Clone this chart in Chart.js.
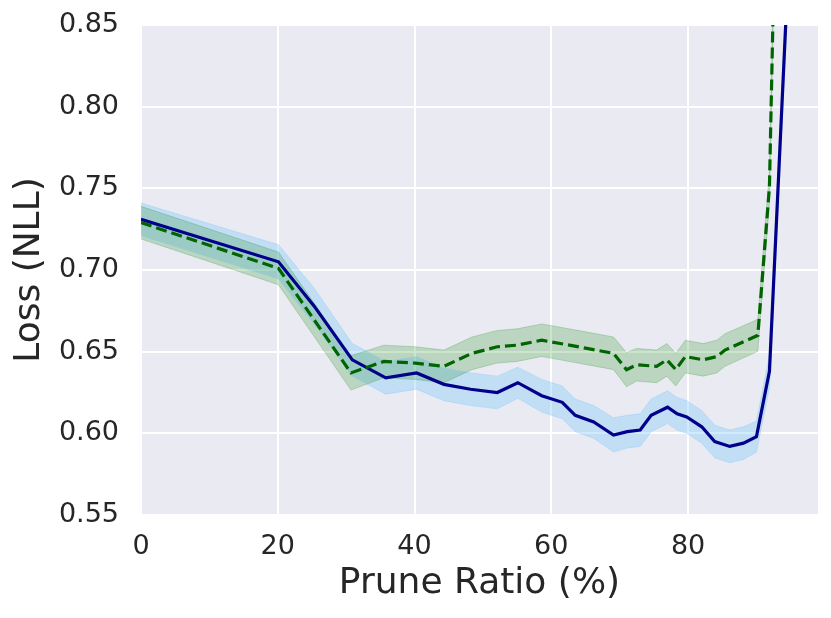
<!DOCTYPE html>
<html lang="en">

<head>
  <meta charset="UTF-8">
  <title>prune loss</title>
  <script src="https://cdn.jsdelivr.net/npm/chart.js"></script>
  <style>
    body {
      margin: 0;
      background: #fff;
    }
  </style>
</head>

<body>
  <canvas id="myChart" width="831" height="618"></canvas>

  <script>
    // solid navy curve
    const blueX = [0, 20.1, 25.3, 30.9, 35.8, 40.3, 44.3, 48.2, 52.1, 55.1, 58.6, 61.6, 63.5, 66.2, 69.1, 71.1, 73.0, 74.6, 77.0, 78.4, 79.8, 82.0, 83.9, 86.1, 88.1, 90.0, 91.9, 96];
    const blueMean = [0.731, 0.705, 0.678, 0.645, 0.634, 0.637, 0.630, 0.627, 0.625, 0.631, 0.623, 0.619, 0.611, 0.607, 0.599, 0.601, 0.602, 0.611, 0.616, 0.612, 0.610, 0.604, 0.595, 0.592, 0.594, 0.598, 0.638, 1.004];
    const blueStd = [0.010, 0.0105, 0.011, 0.010, 0.010, 0.010, 0.010, 0.010, 0.010, 0.0095, 0.010, 0.010, 0.010, 0.010, 0.0105, 0.010, 0.010, 0.010, 0.010, 0.010, 0.010, 0.010, 0.010, 0.010, 0.010, 0.0095, 0.010, 0.015];

    // dashed green curve
    const greenX = [0, 20.1, 30.7, 35.5, 40.1, 44.3, 48.4, 52.1, 55.0, 58.6, 61.3, 65.2, 69.1, 71.0, 72.5, 75.4, 76.9, 78.2, 79.6, 82.2, 84.2, 85.4, 90.2, 91.9, 96];
    const greenMean = [0.729, 0.701, 0.637, 0.644, 0.643, 0.641, 0.649, 0.653, 0.654, 0.657, 0.655, 0.652, 0.649, 0.639, 0.642, 0.641, 0.645, 0.639, 0.647, 0.645, 0.647, 0.651, 0.660, 0.751, 1.57];
    const greenStd = [0.010, 0.010, 0.0105, 0.010, 0.010, 0.010, 0.010, 0.010, 0.010, 0.010, 0.010, 0.010, 0.010, 0.0105, 0.010, 0.010, 0.010, 0.010, 0.010, 0.010, 0.010, 0.010, 0.0098, 0.010, 0.015];

    const xTicks = [0, 20, 40, 60, 80];
    const yTicks = [0.55, 0.60, 0.65, 0.70, 0.75, 0.80, 0.85];

    function pts(xs, ys) {
      return xs.map((x, i) => ({ x: x, y: ys[i] }));
    }
    function shift(ys, sd, sign) {
      return ys.map((v, i) => v + sign * sd[i]);
    }

    const plotBg = {
      id: 'plotBg',
      beforeDraw(chart) {
        const { ctx, chartArea: a } = chart;
        ctx.save();
        ctx.fillStyle = '#EAEAF2';
        ctx.fillRect(a.left, a.top, a.right - a.left, a.bottom - a.top);
        ctx.restore();
      }
    };

    const band = (data, color, fill, order) => ({
      data: data,
      borderColor: color,
      borderWidth: 1,
      backgroundColor: color,
      fill: fill,
      pointRadius: 0,
      tension: 0,
      clip: 0,
      order: order
    });

    const textColor = '#262626';
    const font = 'DejaVu Sans';

    const ctx = document.getElementById('myChart').getContext('2d');
    const myChart = new Chart(ctx, {
      type: 'line',
      data: {
        datasets: [
          band(pts(blueX, shift(blueMean, blueStd, 1)), 'rgba(135, 206, 250, 0.4)', '+1', 5),
          band(pts(blueX, shift(blueMean, blueStd, -1)), 'rgba(135, 206, 250, 0.4)', false, 6),
          band(pts(greenX, shift(greenMean, greenStd, 1)), 'rgba(0, 128, 0, 0.2)', '+1', 3),
          band(pts(greenX, shift(greenMean, greenStd, -1)), 'rgba(0, 128, 0, 0.2)', false, 4),
          {
            data: pts(blueX, blueMean),
            borderColor: '#00008B',
            borderWidth: 3.2,
            pointRadius: 0,
            tension: 0,
            fill: false,
            clip: 0,
            order: 1
          },
          {
            data: pts(greenX, greenMean),
            borderColor: '#006400',
            borderWidth: 3.2,
            borderDash: [11, 5],
            pointRadius: 0,
            tension: 0,
            fill: false,
            clip: 0,
            order: 0
          }
        ]
      },
      options: {
        responsive: false,
        animation: false,
        events: [],
        layout: { padding: { top: 25, right: 13, left: 0, bottom: 0 } },
        plugins: {
          legend: { display: false },
          tooltip: { enabled: false },
          filler: { drawTime: 'beforeDatasetsDraw' }
        },
        scales: {
          x: {
            type: 'linear',
            min: 0,
            max: 99,
            afterBuildTicks: s => { s.ticks = xTicks.map(v => ({ value: v })); },
            afterFit: s => { s.height = 103; s.paddingLeft = 0; s.paddingRight = 0; },
            grid: { color: '#fff', lineWidth: 2, drawTicks: false },
            border: { display: false },
            ticks: {
              color: textColor,
              font: { family: font, size: 27 },
              padding: 15.5,
              maxRotation: 0,
              callback: v => String(v)
            },
            title: {
              display: true,
              text: 'Prune Ratio (%)',
              color: textColor,
              font: { family: font, size: 36 },
              padding: { top: 0, bottom: 13 }
            }
          },
          y: {
            min: 0.55,
            max: 0.85,
            afterBuildTicks: s => { s.ticks = yTicks.map(v => ({ value: v })); },
            afterFit: s => { s.width = 141; s.paddingTop = 0; s.paddingBottom = 0; },
            grid: { color: '#fff', lineWidth: 2, drawTicks: false },
            border: { display: false },
            ticks: {
              color: textColor,
              font: { family: font, size: 27 },
              padding: 22,
              callback: v => v.toFixed(2)
            },
            title: {
              display: true,
              text: 'Loss (NLL)',
              color: textColor,
              font: { family: font, size: 36 },
              padding: { top: 8, bottom: 0 }
            }
          }
        }
      },
      plugins: [plotBg]
    });
  </script>
</body>

</html>
